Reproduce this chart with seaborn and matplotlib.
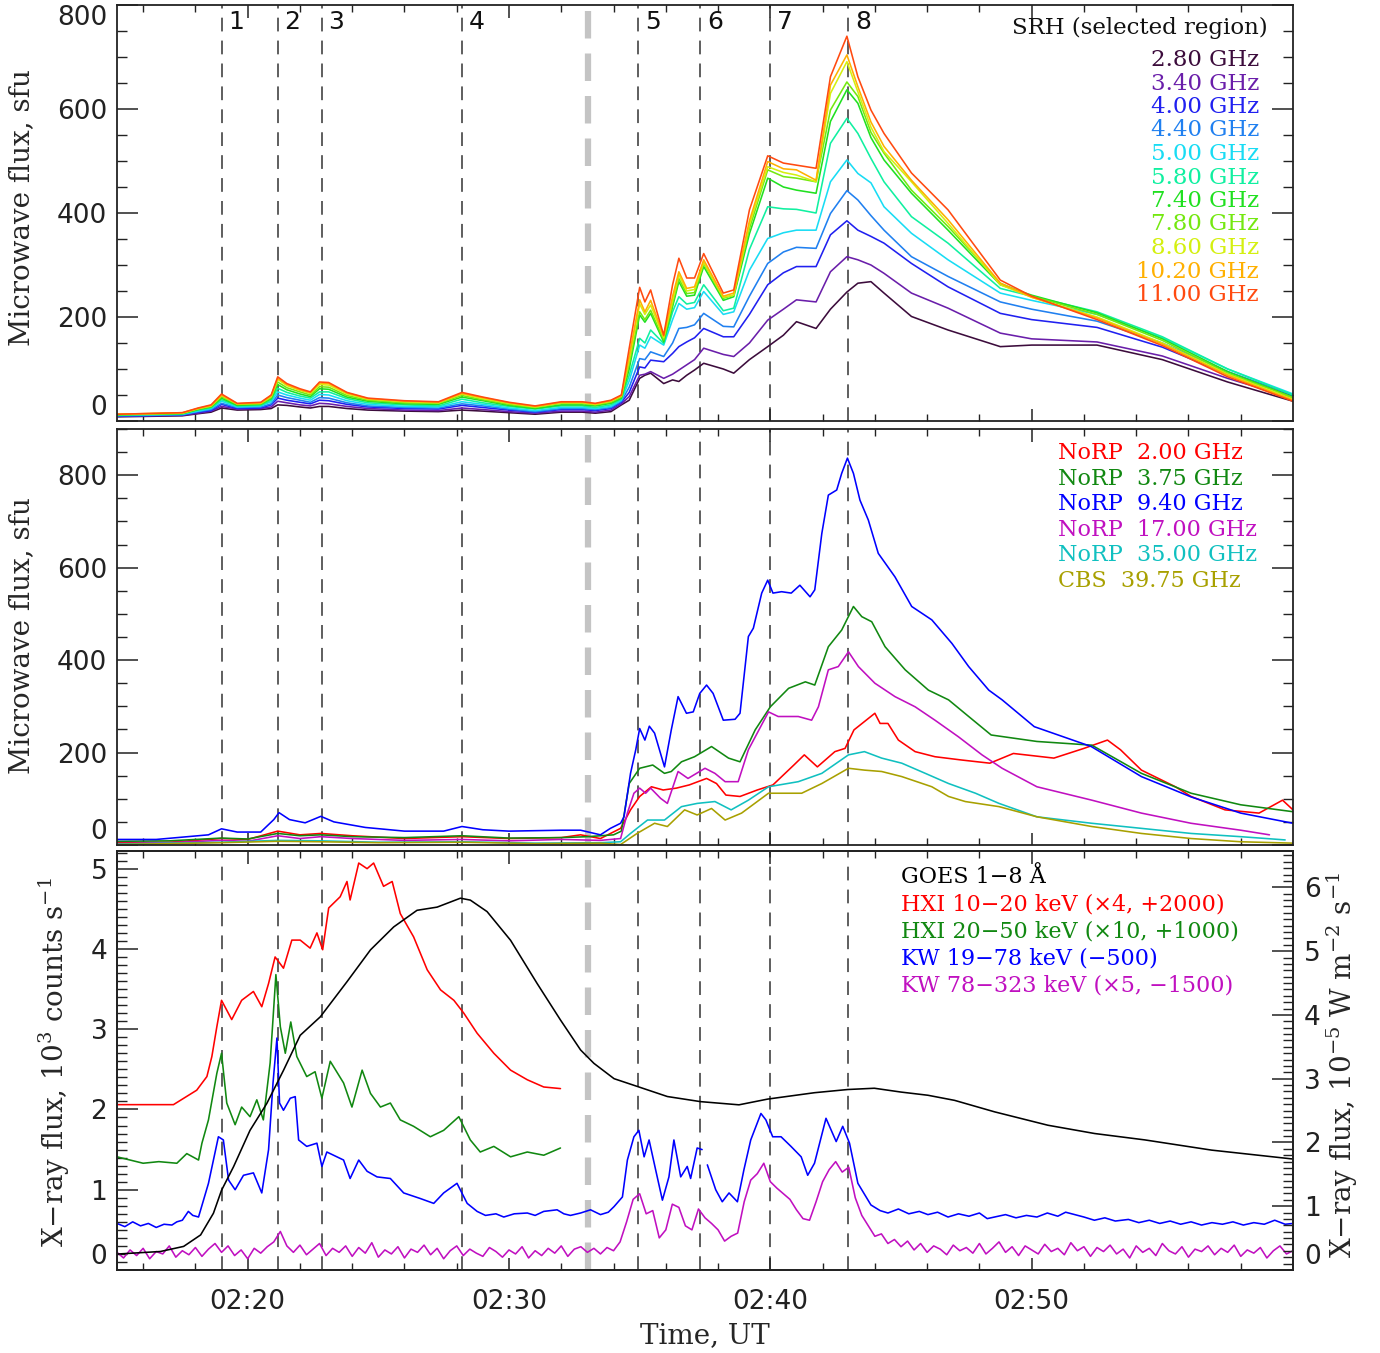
import numpy as np
import matplotlib
matplotlib.use("Agg")
import matplotlib.pyplot as plt
import seaborn as sns
from matplotlib.ticker import FixedLocator, MultipleLocator, FuncFormatter

sns.set_theme(style="ticks")
plt.rcParams.update({
    "font.family": ["DejaVu Sans"],
    "mathtext.fontset": "dejavuserif",
    "xtick.direction": "in", "ytick.direction": "in",
    "axes.edgecolor": "#222222", "axes.linewidth": 1.3,
    "xtick.color": "#222222", "ytick.color": "#222222",
})

# ---------------- time markers ----------------
EVENT_TIMES = [19.0, 21.15, 22.84, 28.2, 34.94, 37.32, 40.0, 42.99]
EVENT_LABELS = ["1", "2", "3", "4", "5", "6", "7", "8"]
GAP_TIME = 33.03

# ---------------- Panel 1: SRH ----------------
T_SRH = [15.0, 17.5, 18.1, 18.6, 19.0, 19.6, 20.5, 20.9, 21.15, 21.5, 22.0, 22.4, 22.75, 23.1,
         23.8, 24.6, 26.0, 27.3, 28.2, 29.0, 30.0, 31.0, 32.0, 32.8, 33.3, 33.9, 34.3, 34.6,
         35.0, 35.2, 35.42, 35.92, 36.26, 36.5, 36.8, 37.1, 37.45, 38.2, 38.6, 39.2, 39.9, 40.5,
         41.0, 41.75, 42.3, 42.93, 43.35, 43.85, 44.35, 45.4, 46.8, 48.8, 50.0, 52.5, 55.0, 57.5, 60.0]
SRH_2_80 = [8, 10, 14, 17, 25, 21, 22, 24, 31, 30, 27, 25, 28, 28, 24, 21, 19, 18, 21, 19, 16, 13, 17, 17, 15, 18, 31, 40,
            82, 88, 92, 72, 79, 76, 88, 98, 111, 100, 92, 118, 143, 165, 191, 178, 215, 248, 265, 268, 246, 201, 175, 143, 146, 146, 118, 75, 38]
SRH_3_40 = [9, 11, 15, 19, 28, 23, 24, 27, 38, 35, 31, 29, 34, 33, 28, 24, 21, 20, 25, 22, 18, 15, 19, 19, 17, 21, 33, 47,
            88, 90, 95, 82, 90, 98, 108, 118, 140, 128, 124, 150, 194, 215, 233, 229, 287, 316, 310, 300, 284, 246, 217, 169, 158, 152, 125, 82, 44]
SRH_4_00 = [9, 12, 17, 20, 32, 24, 25, 31, 44, 40, 36, 33, 40, 39, 32, 27, 24, 23, 30, 26, 21, 17, 22, 22, 20, 24, 36, 55,
            104, 102, 117, 114, 130, 143, 152, 160, 178, 162, 162, 205, 262, 285, 297, 297, 358, 385, 367, 355, 342, 303, 258, 207, 195, 180, 142, 90, 48]
SRH_4_40 = [10, 12, 18, 22, 34, 26, 27, 33, 50, 45, 40, 36, 45, 44, 35, 29, 26, 25, 33, 29, 23, 18, 24, 24, 22, 26, 38, 65,
            120, 118, 133, 124, 150, 178, 180, 185, 207, 182, 181, 240, 303, 325, 334, 332, 399, 443, 425, 395, 367, 316, 278, 229, 215, 192, 150, 95, 50]
SRH_5_00 = [11, 13, 19, 24, 38, 27, 29, 37, 56, 50, 44, 40, 51, 50, 39, 32, 28, 27, 37, 32, 25, 20, 26, 26, 24, 28, 40, 77,
            146, 140, 162, 146, 195, 226, 215, 218, 249, 205, 210, 290, 351, 362, 367, 367, 460, 502, 476, 458, 412, 361, 310, 246, 232, 205, 160, 100, 52]
SRH_5_80 = [11, 14, 21, 25, 41, 29, 30, 40, 63, 55, 48, 44, 56, 56, 43, 35, 31, 29, 42, 35, 28, 23, 29, 29, 26, 31, 42, 88,
            159, 150, 175, 149, 210, 239, 225, 228, 262, 212, 217, 330, 412, 408, 407, 400, 534, 582, 553, 505, 460, 393, 342, 255, 240, 210, 162, 100, 50]
SRH_7_40 = [12, 14, 22, 27, 44, 30, 32, 43, 70, 60, 52, 47, 62, 61, 46, 38, 33, 32, 46, 39, 30, 24, 31, 31, 29, 34, 44, 100,
            204, 190, 207, 152, 220, 268, 240, 242, 297, 232, 239, 360, 467, 450, 444, 438, 576, 637, 611, 545, 502, 438, 367, 262, 242, 208, 158, 95, 46]
SRH_7_80 = [12, 15, 23, 28, 47, 32, 33, 45, 75, 64, 56, 50, 66, 65, 49, 40, 35, 34, 49, 41, 32, 26, 34, 34, 31, 36, 46, 110,
            210, 195, 213, 156, 225, 274, 245, 247, 303, 236, 242, 370, 483, 470, 467, 460, 598, 652, 624, 555, 515, 444, 374, 265, 240, 205, 155, 92, 45]
SRH_8_60 = [13, 15, 24, 29, 49, 33, 34, 47, 80, 68, 59, 53, 70, 69, 52, 42, 37, 35, 52, 43, 34, 27, 35, 35, 32, 38, 48, 118,
            225, 205, 223, 160, 232, 281, 250, 253, 305, 238, 242, 378, 489, 478, 473, 460, 630, 691, 633, 565, 518, 460, 380, 262, 238, 200, 150, 90, 42]
SRH_10_20 = [13, 16, 24, 30, 50, 33, 35, 49, 82, 70, 60, 55, 73, 72, 54, 43, 38, 36, 53, 45, 35, 28, 36, 36, 33, 39, 49, 125,
             233, 210, 232, 163, 240, 287, 255, 258, 310, 240, 246, 385, 499, 485, 483, 463, 646, 704, 643, 575, 528, 463, 387, 265, 238, 198, 148, 88, 40]
SRH_11_00 = [13, 16, 25, 31, 52, 34, 36, 50, 85, 72, 62, 56, 75, 74, 55, 44, 39, 37, 55, 46, 36, 29, 37, 37, 34, 40, 50, 140,
             257, 229, 252, 165, 262, 313, 275, 275, 322, 246, 252, 406, 510, 496, 492, 486, 662, 740, 662, 598, 553, 477, 406, 271, 240, 195, 145, 85, 38]
SRH_SERIES = [SRH_2_80, SRH_3_40, SRH_4_00, SRH_4_40, SRH_5_00, SRH_5_80, SRH_7_40, SRH_7_80, SRH_8_60, SRH_10_20, SRH_11_00]
SRH_LABELS = ["2.80 GHz", "3.40 GHz", "4.00 GHz", "4.40 GHz", "5.00 GHz", "5.80 GHz", "7.40 GHz",
              "7.80 GHz", "8.60 GHz", "10.20 GHz", "11.00 GHz"]
SRH_COLORS = ["#3c0c3c", "#6a1eaa", "#2020f0", "#2080f0", "#18dcf4", "#10f0a0", "#20e020",
              "#74e810", "#d4f010", "#ffb000", "#ff4a10"]

# ---------------- Panel 2: NoRP / CBS ----------------
T_N200 = [15, 17, 19, 20, 21.15, 22, 22.8, 24, 26, 28.2, 30, 32, 32.74, 33.5, 34.27, 34.65, 35.0, 35.45, 35.9, 36.4,
          36.9, 37.56, 37.94, 38.3, 38.84, 39.5, 40.1, 40.9, 41.3, 41.8, 42.47, 42.86, 43.2, 43.6, 44.0, 44.2, 44.5,
          44.9, 45.54, 46.3, 47.3, 48.4, 49.3, 50.85, 52.0, 52.9, 53.4, 54.2, 55.5, 56.1, 57.4, 58.7, 59.6, 60.0]
N200 = [5, 6, 14, 12, 30, 22, 25, 20, 14, 18, 14, 16, 22, 14, 36, 76, 105, 126, 119, 123, 130, 144, 133, 108, 105, 119,
        130, 173, 195, 169, 202, 209, 249, 267, 285, 263, 263, 227, 202, 191, 184, 177, 198, 188, 209, 227, 206, 162,
        126, 105, 76, 69, 97, 76]
T_N375 = [15, 17, 19, 20, 21.15, 22, 22.8, 24, 26, 28.2, 30, 32, 33, 34, 34.3, 34.6, 35.0, 35.5, 35.95, 36.21, 36.6, 37.1,
          37.75, 38.4, 38.84, 39.42, 40.0, 40.7, 41.34, 41.7, 42.22, 42.73, 43.18, 43.5, 43.88, 44.39, 45.16, 46.05,
          46.82, 47.59, 48.45, 50.2, 52.3, 54.2, 56.1, 58.0, 60.0]
N375 = [8, 9, 15, 13, 25, 20, 22, 18, 16, 20, 15, 16, 18, 22, 30, 133, 166, 173, 155, 159, 180, 191, 213, 188, 180, 249,
        299, 339, 353, 346, 429, 465, 516, 494, 483, 429, 379, 335, 314, 278, 238, 224, 216, 155, 112, 87, 72]
T_N940 = [15, 16.5, 17.7, 18.5, 19.0, 19.6, 20.5, 21.0, 21.2, 21.6, 22.2, 22.8, 23.3, 24.5, 26.0, 27.5, 28.2, 29.0, 30.0,
          32.0, 32.74, 33.5, 33.88, 34.27, 34.4, 34.65, 34.85, 35.0, 35.2, 35.37, 35.57, 35.95, 36.21, 36.47, 36.79, 37.05,
          37.3, 37.56, 37.81, 38.2, 38.65, 38.84, 39.16, 39.35, 39.67, 39.9, 40.1, 40.43, 40.8, 41.13, 41.52, 41.7, 41.97,
          42.22, 42.54, 42.73, 42.95, 43.18, 43.43, 43.75, 44.13, 44.77, 45.41, 46.18, 46.95, 47.59, 48.36, 48.87, 50.1,
          52.28, 54.2, 56.1, 58.0, 60.0]
N940 = [12, 12, 18, 22, 35, 28, 28, 55, 70, 55, 48, 62, 50, 38, 30, 30, 40, 33, 30, 32, 32, 22, 36, 47, 61, 155, 206, 252,
        227, 257, 242, 169, 249, 321, 285, 288, 328, 346, 328, 270, 272, 285, 451, 469, 545, 573, 545, 548, 545, 562, 537,
        552, 674, 757, 768, 804, 837, 804, 746, 703, 631, 580, 516, 487, 436, 386, 335, 314, 256, 213, 148, 104, 69, 47]
T_N1700 = [15, 17, 19, 20, 21.15, 22, 22.8, 24, 26, 28.2, 30, 32, 33.5, 34.27, 34.53, 34.78, 35.0, 35.23, 35.42, 35.8,
           36.06, 36.47, 36.85, 37.5, 37.88, 38.27, 38.77, 39.16, 39.93, 40.3, 41.07, 41.58, 41.84, 42.22, 42.6, 42.99,
           43.37, 44.0, 44.77, 45.54, 46.3, 47.2, 48.1, 48.87, 50.2, 52.3, 54.2, 56.1, 58.0, 59.1]
N1700 = [3, 5, 10, 8, 20, 14, 18, 14, 10, 12, 9, 12, 10, 14, 69, 112, 123, 112, 123, 101, 90, 159, 144, 166, 155, 137, 137,
         206, 288, 278, 278, 270, 299, 379, 386, 418, 386, 350, 321, 299, 270, 234, 195, 166, 126, 97, 69, 47, 32, 22]
T_N3500 = [15, 19, 21.15, 22.8, 25, 28.2, 31, 33.5, 34.27, 34.65, 35.3, 35.95, 36.6, 37.2, 37.88, 38.5, 39.16, 39.93, 41.07,
           41.97, 42.99, 43.6, 44.26, 45.03, 45.93, 46.82, 47.85, 48.75, 50.2, 52.3, 54.2, 56.1, 58.0, 59.7]
N3500 = [2, 6, 10, 9, 6, 7, 4, 5, 7, 25, 54, 54, 83, 90, 94, 76, 97, 126, 137, 155, 195, 202, 188, 177, 155, 133, 112, 90,
         61, 47, 36, 25, 18, 11]
T_CBS = [15, 19, 21.15, 22.8, 25, 28.2, 31, 33.5, 34.27, 34.9, 35.57, 36.06, 36.72, 37.2, 37.75, 38.27, 38.9, 39.93, 41.2,
         41.97, 42.99, 43.6, 44.26, 45.03, 46.18, 46.82, 47.46, 48.75, 50.2, 52.3, 54.2, 56.1, 58.0, 60.0]
CBS = [1, 5, 8, 7, 5, 6, 3, 4, 1, 25, 47, 40, 76, 65, 79, 54, 69, 112, 112, 133, 166, 162, 159, 148, 126, 105, 94, 83, 61,
       40, 25, 14, 7, 4]
P2_SERIES = [(T_N200, N200, "#ff0000", "NoRP  2.00 GHz"), (T_N375, N375, "#118811", "NoRP  3.75 GHz"),
             (T_N940, N940, "#0000ff", "NoRP  9.40 GHz"), (T_N1700, N1700, "#c010c0", "NoRP  17.00 GHz"),
             (T_N3500, N3500, "#10c0c0", "NoRP  35.00 GHz"), (T_CBS, CBS, "#a8a000", "CBS  39.75 GHz")]

# ---------------- Panel 3: X-rays ----------------
T_GOES = [15, 16.66, 17.55, 18.2, 18.69, 19.0, 19.46, 20.09, 20.73, 21.37, 22.01, 22.78, 23.8, 24.7, 25.59, 26.48, 27.25,
          28.14, 28.52, 29.16, 30.06, 31.08, 31.97, 32.74, 33.25, 34.02, 34.97, 36.06, 37.33, 38.8, 39.9, 41.69, 42.96,
          43.98, 45.0, 46.03, 47.05, 48.58, 50.62, 52.41, 54.33, 56.88, 60.0]
GOES = [0.25, 0.29, 0.37, 0.55, 0.89, 1.25, 1.62, 2.19, 2.61, 3.13, 3.68, 3.97, 4.52, 5.02, 5.38, 5.64, 5.69, 5.83, 5.80,
        5.62, 5.17, 4.49, 3.92, 3.45, 3.24, 3.00, 2.87, 2.72, 2.64, 2.59, 2.68, 2.78, 2.83, 2.85, 2.79, 2.74, 2.66, 2.48,
        2.27, 2.14, 2.04, 1.88, 1.74]
T_HXI1 = [15, 17.16, 18.05, 18.44, 18.63, 18.82, 19.0, 19.39, 19.77, 20.22, 20.54, 20.8, 21.05, 21.37, 21.69, 22.01, 22.39,
          22.65, 22.87, 23.1, 23.54, 23.8, 23.92, 24.25, 24.57, 24.82, 25.2, 25.53, 25.84, 26.35, 26.87, 27.38, 27.89,
          28.27, 28.78, 29.42, 30.06, 30.7, 31.33, 31.97]
HXI1 = [2.06, 2.06, 2.24, 2.41, 2.66, 3.03, 3.36, 3.12, 3.36, 3.47, 3.28, 3.57, 3.90, 3.76, 4.11, 4.11, 4.01, 4.20, 3.99,
        4.51, 4.65, 4.84, 4.61, 5.07, 5.00, 5.07, 4.78, 4.84, 4.44, 4.15, 3.74, 3.49, 3.36, 3.20, 2.95, 2.70, 2.49, 2.37,
        2.28, 2.26]
T_HXI2 = [15, 16, 16.6, 17.29, 17.67, 18.12, 18.25, 18.5, 18.82, 19.0, 19.2, 19.52, 19.77, 20.09, 20.35, 20.6, 20.86,
          21.08, 21.25, 21.44, 21.65, 21.88, 22.26, 22.58, 22.84, 23.16, 23.67, 23.99, 24.38, 24.7, 25.08, 25.46, 25.84,
          26.35, 26.99, 27.5, 28.08, 28.52, 28.9, 29.42, 30.06, 30.7, 31.33, 31.97]
HXI2 = [1.41, 1.33, 1.35, 1.33, 1.45, 1.37, 1.58, 1.87, 2.45, 2.70, 2.08, 1.81, 2.03, 1.91, 2.12, 1.87, 2.58, 3.68, 3.03,
        2.70, 3.09, 2.66, 2.41, 2.47, 2.14, 2.60, 2.33, 2.03, 2.49, 2.20, 2.03, 2.08, 1.87, 1.79, 1.66, 1.74, 1.91, 1.62,
        1.47, 1.54, 1.41, 1.47, 1.43, 1.52]
T_KW1_A = [15, 15.3, 15.6, 15.9, 16.2, 16.5, 16.8, 17.1, 17.29, 17.5, 17.73, 17.9, 18.12, 18.5, 18.88, 19.07, 19.27, 19.52,
           19.84, 20.22, 20.54, 20.8, 20.97, 21.12, 21.22, 21.37, 21.63, 21.82, 21.95, 22.26, 22.65, 22.84, 23.03, 23.67,
           23.92, 24.25, 24.57, 24.95, 25.46, 25.97, 26.61, 27.12, 27.5, 28.01, 28.4, 28.78, 29.1, 29.5, 29.8, 30.2, 30.7,
           31.0, 31.33, 31.84, 32.1, 32.35, 32.74, 33.12, 33.5, 33.8, 34.02, 34.34, 34.53, 34.78, 34.97, 35.17, 35.36,
           35.61, 35.87, 36.12, 36.31, 36.57, 36.82, 36.95, 37.2, 37.39]
KW1_A = [0.58, 0.54, 0.60, 0.55, 0.58, 0.53, 0.57, 0.56, 0.60, 0.62, 0.73, 0.68, 0.66, 1.08, 1.66, 1.62, 1.12, 1.00, 1.18,
         1.21, 0.96, 1.50, 2.33, 2.89, 2.08, 1.99, 2.14, 2.16, 1.62, 1.54, 1.58, 1.29, 1.47, 1.37, 1.14, 1.37, 1.23, 1.16,
         1.14, 0.96, 0.89, 0.83, 0.96, 1.08, 0.83, 0.73, 0.68, 0.70, 0.66, 0.70, 0.71, 0.68, 0.73, 0.75, 0.70, 0.68, 0.71,
         0.75, 0.69, 0.72, 0.79, 0.91, 1.37, 1.66, 1.74, 1.41, 1.62, 1.25, 0.87, 1.16, 1.62, 1.16, 1.29, 1.14, 1.52, 1.50]
T_KW1_B = [37.59, 37.91, 38.16, 38.42, 38.74, 38.99, 39.25, 39.64, 39.83, 40.09, 40.41, 40.79, 41.18, 41.43, 41.69, 42.13,
           42.52, 42.77, 43.03, 43.35, 43.85, 44.2, 44.5, 44.9, 45.3, 45.7, 46.03, 46.4, 46.8, 47.2, 47.6, 48.0, 48.3,
           48.58, 49.0, 49.4, 49.8, 50.2, 50.6, 51.0, 51.3, 51.65, 52.0, 52.4, 52.8, 53.2, 53.7, 54.1, 54.5, 54.9, 55.3,
           55.7, 56.1, 56.5, 56.9, 57.3, 57.7, 58.1, 58.5, 58.9, 59.3, 59.7, 60.0]
KW1_B = [1.31, 1.00, 0.85, 0.96, 0.85, 1.25, 1.62, 1.95, 1.87, 1.66, 1.66, 1.54, 1.41, 1.18, 1.33, 1.89, 1.60, 1.79, 1.58,
         1.08, 0.81, 0.74, 0.71, 0.76, 0.70, 0.73, 0.69, 0.72, 0.66, 0.70, 0.67, 0.71, 0.64, 0.66, 0.69, 0.65, 0.68, 0.66,
         0.71, 0.67, 0.72, 0.69, 0.66, 0.62, 0.65, 0.61, 0.63, 0.59, 0.62, 0.58, 0.61, 0.57, 0.60, 0.56, 0.59, 0.57, 0.60,
         0.56, 0.59, 0.57, 0.62, 0.57, 0.58]
KW2 = [0.22, 0.15, 0.25, 0.18, 0.27, 0.14, 0.23, 0.20, 0.30, 0.16, 0.24, 0.19,
       0.28, 0.17, 0.26, 0.33, 0.22, 0.30, 0.18, 0.25, 0.14, 0.27, 0.21, 0.29,
       0.35, 0.48, 0.30, 0.22, 0.31, 0.19, 0.26, 0.33, 0.18, 0.27, 0.22, 0.30,
       0.17, 0.28, 0.21, 0.34, 0.16, 0.25, 0.20, 0.29, 0.15, 0.26, 0.22, 0.31,
       0.19, 0.27, 0.14, 0.24, 0.30, 0.18, 0.26, 0.21, 0.17, 0.28, 0.23, 0.16,
       0.25, 0.20, 0.29, 0.15, 0.24, 0.18, 0.27, 0.21, 0.30, 0.17, 0.26, 0.29,
       0.22, 0.27, 0.20, 0.28, 0.24, 0.35, 0.60, 0.88, 0.95, 0.70, 0.74, 0.40,
       0.50, 0.82, 0.78, 0.55, 0.50, 0.76, 0.65, 0.58, 0.50, 0.36, 0.42, 0.46,
       0.85, 1.12, 1.20, 1.33, 1.10, 1.02, 0.95, 0.88, 0.75, 0.64, 0.62, 0.85,
       1.10, 1.25, 1.35, 1.22, 1.28, 0.90, 0.68, 0.55, 0.42, 0.45, 0.33, 0.38,
       0.29, 0.36, 0.25, 0.33, 0.22, 0.30, 0.26, 0.19, 0.31, 0.24, 0.28, 0.21,
       0.33, 0.20, 0.27, 0.35, 0.22, 0.29, 0.18, 0.30, 0.25, 0.20, 0.32, 0.23,
       0.27, 0.19, 0.34, 0.24, 0.29, 0.17, 0.28, 0.23, 0.31, 0.20, 0.26, 0.15,
       0.30, 0.22, 0.27, 0.18, 0.33, 0.24, 0.20, 0.29, 0.16, 0.26, 0.23, 0.30,
       0.19, 0.27, 0.22, 0.31, 0.17, 0.25, 0.21, 0.28, 0.15, 0.24, 0.30, 0.20,
       0.24]
T_KW2 = np.arange(len(KW2)) * 0.25 + 15.0

P3_LEGEND = [("GOES 1\u22128 \u00c5", "#000000"),
             ("HXI 10\u221220 keV (\u00d74, +2000)", "#ff0000"),
             ("HXI 20\u221250 keV (\u00d710, +1000)", "#118811"),
             ("KW 19\u221278 keV (\u2212500)", "#0000ff"),
             ("KW 78\u2212323 keV (\u00d75, \u22121500)", "#c010c0")]

# ---------------- figure ----------------
W, H = 1380, 1353
fig = plt.figure(figsize=(W / 100, H / 100), dpi=100)
fig.patch.set_facecolor("white")


def axes_px(top, bottom, left=117, right=1293):
    return fig.add_axes([left / W, 1 - bottom / H, (right - left) / W, (bottom - top) / H])


ax1 = axes_px(5, 421)
ax2 = axes_px(429, 845)
ax3 = axes_px(851, 1270)
ax3r = ax3.twinx()

SERIF = ["DejaVu Serif"]
TICK_FS = 19
TXT_FS = 16
LW = 1.15


def draw(ax, x, y, col, **kw):
    sns.lineplot(x=x, y=y, ax=ax, color=col, lw=LW, legend=False, sort=False, estimator=None, **kw)


# Panel 1
for vals, col in zip(SRH_SERIES, SRH_COLORS):
    draw(ax1, T_SRH, vals, col)
ax1.set_ylim(0, 800)
ax1.text(0.9787, 0.9447, "SRH (selected region)", transform=ax1.transAxes, ha="right", va="center",
         fontsize=TXT_FS + 0.5, family=SERIF, color="#111111")
for i, (lab, col) in enumerate(zip(SRH_LABELS, SRH_COLORS)):
    ypix = 60 + 23.5 * i
    ax1.text(0.9711, (421 - ypix) / 416, lab, transform=ax1.transAxes, ha="right", va="center",
             fontsize=TXT_FS + 0.5, family=SERIF, color=col)
for t, lab in zip(EVENT_TIMES, EVENT_LABELS):
    ax1.text(t + 0.25, 0.958, lab, transform=ax1.get_xaxis_transform(), ha="left", va="center",
             fontsize=18, color="#111111")

# Panel 2
for tt, vv, col, lab in P2_SERIES:
    draw(ax2, tt, vv, col)
ax2.set_ylim(0, 900)
for i, (tt, vv, col, lab) in enumerate(P2_SERIES):
    ypix = 453 + 25.6 * i
    ax2.text(0.8002, (845 - ypix) / 416, lab, transform=ax2.transAxes, ha="left", va="center",
             fontsize=TXT_FS, family=SERIF, color=col)

# Panel 3
draw(ax3, T_HXI1, HXI1, "#ff0000")
draw(ax3, T_HXI2, HXI2, "#118811")
draw(ax3, T_KW1_A, KW1_A, "#0000ff")
draw(ax3, T_KW1_B, KW1_B, "#0000ff")
draw(ax3, T_KW2, KW2, "#c010c0")
draw(ax3r, T_GOES, GOES, "#000000")
ax3.set_ylim(0, 5.22)
ax3r.set_ylim(0, 6.57)
for i, (lab, col) in enumerate(P3_LEGEND):
    ypix = 877 + 27.2 * i
    ax3.text(0.6667, (1270 - ypix) / 419, lab, transform=ax3.transAxes, ha="left", va="center",
             fontsize=TXT_FS, family=SERIF, color=col)

# dashed markers and x axes
for ax in (ax1, ax2, ax3):
    ax.set_xlim(15, 60)
    for t in EVENT_TIMES:
        ax.axvline(t, color="#333333", lw=1.1, ls=(0, (9, 6)), zorder=0.5)
    ax.axvline(GAP_TIME, color="#c4c4c4", lw=4.5, ls=(0, (4.4, 2.4)), zorder=0.4)
    ax.set_xlabel("")
    ax.set_ylabel("")
    ax.xaxis.set_major_locator(FixedLocator([20, 30, 40, 50]))
    ax.xaxis.set_minor_locator(FixedLocator(list(range(16, 60, 2))))
    ax.tick_params(axis="x", which="major", length=9, width=1.1, top=True, bottom=True, labelsize=TICK_FS)
    ax.tick_params(axis="x", which="minor", length=5, width=1.0, top=True, bottom=True)
    for s in ax.spines.values():
        s.set_visible(True)
ax3r.set_xlim(15, 60)
ax3r.set_ylabel("")

for ax in (ax1, ax2):
    ax.yaxis.set_major_locator(FixedLocator([0, 200, 400, 600, 800]))
    ax.yaxis.set_minor_locator(MultipleLocator(50))
    ax.tick_params(axis="y", which="major", length=15, width=1.1, left=True, right=True, labelsize=TICK_FS, pad=7)
    ax.tick_params(axis="y", which="minor", length=7, width=1.0, left=True, right=True)
    ax.tick_params(axis="x", labelbottom=False)

ax3.yaxis.set_major_locator(FixedLocator([0, 1, 2, 3, 4, 5]))
ax3.yaxis.set_minor_locator(MultipleLocator(0.1))
ax3.tick_params(axis="y", which="major", length=15, width=1.1, left=True, right=False, labelsize=TICK_FS, pad=7)
ax3.tick_params(axis="y", which="minor", length=7, width=1.0, left=True, right=False)
ax3r.yaxis.set_major_locator(FixedLocator([0, 1, 2, 3, 4, 5, 6]))
ax3r.yaxis.set_minor_locator(MultipleLocator(0.1))
ax3r.tick_params(axis="y", which="major", length=15, width=1.1, left=False, right=True, labelsize=TICK_FS, pad=8)
ax3r.tick_params(axis="y", which="minor", length=7, width=1.0, left=False, right=True)
ax3.tick_params(axis="x", which="major", pad=14)
ax3.xaxis.set_major_formatter(FuncFormatter(lambda t, p: f"{2 + int(t) // 60:02d}:{int(round(t)) % 60:02d}"))

# keep the extreme tick labels inside the frame as in the reference
for ax in (ax1, ax2, ax3, ax3r):
    ticks = ax.yaxis.get_major_ticks()
    ticks[0].label1.set_va("bottom")
    ticks[0].label2.set_va("bottom")
ax1.yaxis.get_major_ticks()[-1].label1.set_va("top")

# axis labels
fig.text(22 / W, 1 - 208 / H, "Microwave flux, sfu", rotation=90, ha="center", va="center",
         rotation_mode="anchor", fontsize=20, family=SERIF)
fig.text(22 / W, 1 - 636 / H, "Microwave flux, sfu", rotation=90, ha="center", va="center",
         rotation_mode="anchor", fontsize=20, family=SERIF)
fig.text(54 / W, 1 - 1062 / H, "X\u2212ray flux, 10$^3$ counts s$^{-1}$", rotation=90, ha="center",
         va="center", rotation_mode="anchor", fontsize=20, family=SERIF)
fig.text(1342 / W, 1 - 1065 / H, "X\u2212ray flux, 10$^{-5}$ W m$^{-2}$ s$^{-1}$", rotation=90, ha="center",
         va="center", rotation_mode="anchor", fontsize=20, family=SERIF)
fig.text(705 / W, 1 - 1336 / H, "Time, UT", ha="center", va="center", fontsize=20, family=SERIF)

fig.savefig("out.png", dpi=100, facecolor="white")
